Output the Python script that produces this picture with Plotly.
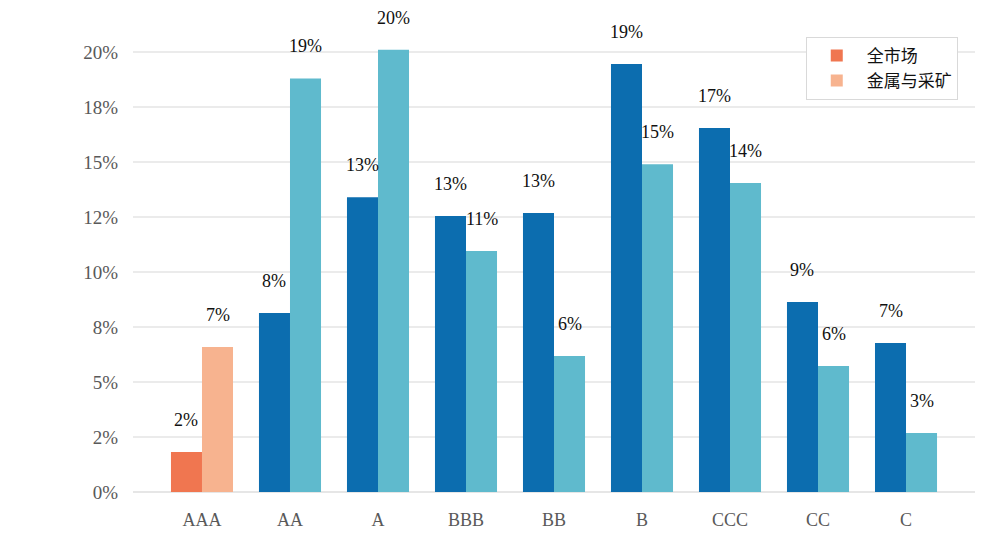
import plotly.graph_objects as go

categories = ["AAA", "AA", "A", "BBB", "BB", "B", "CCC", "CC", "C"]
market = [1.82, 8.14, 13.4, 12.55, 12.68, 19.45, 16.55, 8.64, 6.77]
metals = [6.59, 18.8, 20.1, 10.95, 6.18, 14.9, 14.05, 5.73, 2.68]
series_names = ["全市场", "金属与采矿"]
ytick_vals = [0, 2.5, 5, 7.5, 10, 12.5, 15, 17.5, 20]
ytick_text = ["0%", "2%", "5%", "8%", "10%", "12%", "15%", "18%", "20%"]

market_colors = ["#F07650"] + ["#0C6DAF"] * (len(categories) - 1)
metals_colors = ["#F7B38F"] + ["#5FBACD"] * (len(categories) - 1)

BARGAP = 0.295
SERIF = "Liberation Serif"

fig = go.Figure()
fig.add_trace(go.Bar(name=series_names[0], x=categories, y=market,
                     marker=dict(color=market_colors, line=dict(width=0))))
fig.add_trace(go.Bar(name=series_names[1], x=categories, y=metals,
                     marker=dict(color=metals_colors, line=dict(width=0))))

half = (1 - BARGAP) / 4
annotations = []
for i in range(len(categories)):
    for vals, off in ((market, -half), (metals, half)):
        annotations.append(dict(
            x=i + off, y=vals[i], xref="x", yref="y",
            text=f"{vals[i]:.0f}%", showarrow=False,
            xanchor="center", yanchor="middle", yshift=32,
            font=dict(family=SERIF, size=18, color="#111111"),
        ))

fig.update_layout(
    width=1007, height=558,
    margin=dict(l=133, r=32, t=30, b=66),
    paper_bgcolor="white", plot_bgcolor="white",
    barmode="group", bargap=BARGAP, bargroupgap=0,
    annotations=annotations,
    showlegend=True,
    legend=dict(
        x=0.799, y=0.985, xanchor="left", yanchor="top",
        bgcolor="white", bordercolor="#d9d9d9", borderwidth=1,
        font=dict(family="Noto Sans CJK SC", size=17, color="#111111"),
        tracegroupgap=10, itemwidth=50,
    ),
    xaxis=dict(
        range=[-0.784, 8.784], showgrid=False, showline=False, zeroline=False,
        ticks="", ticklabelstandoff=15,
        tickfont=dict(family=SERIF, size=18, color="#595959"),
    ),
    yaxis=dict(
        range=[0, 21], tickvals=ytick_vals, ticktext=ytick_text,
        showgrid=True, gridcolor="#ebebeb", gridwidth=2,
        zeroline=True, zerolinecolor="#e6e6e6", zerolinewidth=2,
        showline=False, ticks="", ticklabelstandoff=14,
        tickfont=dict(family=SERIF, size=19, color="#595959"),
    ),
)

fig.write_html("out.html")
